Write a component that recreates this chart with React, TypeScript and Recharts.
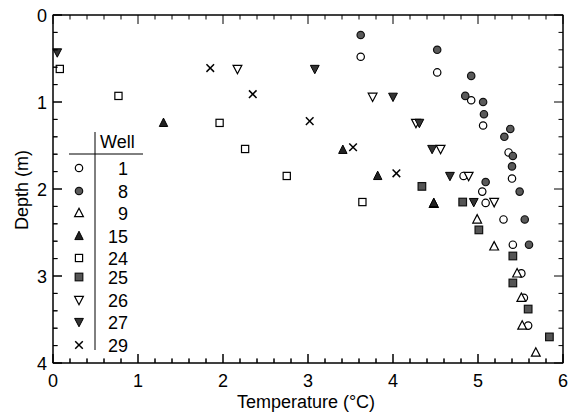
import React from "react";
import { ScatterChart, Scatter, XAxis, YAxis } from "recharts";

const FONT = "'Liberation Sans', Arial, Helvetica, sans-serif";

// Well identifiers and marker kinds
const wellNames = ["1", "8", "9", "15", "24", "25", "26", "27", "29"];
const wellKinds = [
  "openCircle",
  "filledCircle",
  "openTri",
  "filledTri",
  "openSquare",
  "filledSquare",
  "openDown",
  "filledDown",
  "cross",
];

// [temperature °C, depth m]
const well1 = [
  [3.62, 0.48], [4.52, 0.66], [4.92, 0.98], [5.06, 1.27], [5.36, 1.58],
  [5.40, 1.88], [4.83, 1.85], [5.05, 2.03], [5.09, 2.16], [5.30, 2.35],
  [5.41, 2.64], [5.51, 2.97], [5.54, 3.25], [5.59, 3.57],
];
const well8 = [
  [3.62, 0.23], [4.52, 0.40], [4.92, 0.70], [4.85, 0.93], [5.06, 1.0],
  [5.07, 1.14], [5.38, 1.31], [5.31, 1.40], [5.41, 1.62], [5.40, 1.74],
  [5.09, 1.92], [5.49, 2.03], [5.55, 2.35], [5.60, 2.64],
];
const well9 = [
  [4.48, 2.17], [4.99, 2.35], [5.19, 2.66], [5.46, 2.97], [5.51, 3.25],
  [5.52, 3.57], [5.68, 3.88],
];
const well15 = [[1.30, 1.24], [3.41, 1.55], [3.82, 1.85], [4.48, 2.16]];
const well24 = [
  [0.08, 0.62], [0.77, 0.93], [1.96, 1.24], [2.26, 1.54], [2.75, 1.85],
  [3.64, 2.15],
];
const well25 = [
  [4.34, 1.97], [4.82, 2.15], [5.01, 2.47], [5.41, 2.77], [5.41, 3.08],
  [5.59, 3.38], [5.84, 3.70],
];
const well26 = [
  [2.17, 0.62], [3.76, 0.94], [4.27, 1.24], [4.56, 1.54], [4.89, 1.85],
  [5.19, 2.15],
];
const well27 = [
  [0.05, 0.43], [3.08, 0.62], [4.00, 0.94], [4.31, 1.24], [4.46, 1.54],
  [4.67, 1.85], [4.95, 2.15],
];
const well29 = [
  [1.85, 0.61], [2.35, 0.91], [3.02, 1.22], [3.53, 1.52], [4.04, 1.82],
];

const wellData = [well1, well8, well9, well15, well24, well25, well26, well27, well29];

// Axis ticks
const xMajor = [0, 1, 2, 3, 4, 5, 6];
const yMajor = [0, 1, 2, 3, 4];
const xTicks = [
  0, 0.2, 0.4, 0.6, 0.8, 1, 1.2, 1.4, 1.6, 1.8, 2, 2.2, 2.4, 2.6, 2.8, 3,
  3.2, 3.4, 3.6, 3.8, 4, 4.2, 4.4, 4.6, 4.8, 5, 5.2, 5.4, 5.6, 5.8, 6,
];
const yTicks = [
  0, 0.2, 0.4, 0.6, 0.8, 1, 1.2, 1.4, 1.6, 1.8, 2, 2.2, 2.4, 2.6, 2.8, 3,
  3.2, 3.4, 3.6, 3.8, 4,
];

const isMajor = (v: number, majors: number[]) =>
  majors.some((m) => Math.abs(m - v) < 1e-6);

const MAJOR_LEN = 9;
const MINOR_LEN = 4.5;

// Chart geometry (plot rectangle follows from margins + axis sizes below)
const W = 569;
const H = 414;
const MARGIN = { top: 14, right: 5, bottom: 0, left: 0 };
const X_AXIS_H = 51;
const Y_AXIS_W = 53;
const PLOT = {
  left: MARGIN.left + Y_AXIS_W,
  right: W - MARGIN.right - 1,
  top: MARGIN.top + 1,
  bottom: H - MARGIN.bottom - X_AXIS_H,
};
const sx = (v: number) => PLOT.left + (v / 6) * (PLOT.right - PLOT.left);
const sy = (v: number) => PLOT.top + (v / 4) * (PLOT.bottom - PLOT.top);

function Marker({ kind, cx, cy }: { kind: string; cx: number; cy: number }) {
  const sw = 1.2;
  const r = 3.7;
  switch (kind) {
    case "openCircle":
      return <circle cx={cx} cy={cy} r={r} fill="#fff" stroke="#000" strokeWidth={sw} />;
    case "filledCircle":
      return <circle cx={cx} cy={cy} r={r} fill="#5a5a5a" stroke="#111" strokeWidth={sw} />;
    case "openSquare":
      return <rect x={cx - 3.6} y={cy - 3.6} width={7.2} height={7.2} fill="#fff" stroke="#000" strokeWidth={sw} />;
    case "filledSquare":
      return <rect x={cx - 3.8} y={cy - 3.8} width={7.6} height={7.6} fill="#555" stroke="#111" strokeWidth={sw} />;
    case "openTri":
      return (
        <polygon
          points={`${cx},${cy - 4.8} ${cx + 4.4},${cy + 3.6} ${cx - 4.4},${cy + 3.6}`}
          fill="#fff"
          stroke="#000"
          strokeWidth={sw}
        />
      );
    case "filledTri":
      return (
        <polygon
          points={`${cx},${cy - 4.8} ${cx + 4.2},${cy + 3.6} ${cx - 4.2},${cy + 3.6}`}
          fill="#222"
          stroke="#000"
          strokeWidth={1}
        />
      );
    case "openDown":
      return (
        <polygon
          points={`${cx - 4.4},${cy - 3.6} ${cx + 4.4},${cy - 3.6} ${cx},${cy + 4.8}`}
          fill="#fff"
          stroke="#000"
          strokeWidth={sw}
        />
      );
    case "filledDown":
      return (
        <polygon
          points={`${cx - 4.4},${cy - 3.6} ${cx + 4.4},${cy - 3.6} ${cx},${cy + 4.8}`}
          fill="#333"
          stroke="#000"
          strokeWidth={1}
        />
      );
    case "cross":
    default:
      return (
        <g stroke="#000" strokeWidth={1.5}>
          <line x1={cx - 3.8} y1={cy - 3.8} x2={cx + 3.8} y2={cy + 3.8} />
          <line x1={cx - 3.8} y1={cy + 3.8} x2={cx + 3.8} y2={cy - 3.8} />
        </g>
      );
  }
}

function BottomTick(p: any) {
  const v = p.payload.value;
  const major = isMajor(v, xMajor);
  const len = major ? MAJOR_LEN : MINOR_LEN;
  return (
    <g>
      <path d={`M${p.x},${p.y}V${p.y - len}`} stroke="#000" strokeWidth={1} fill="none" />
      {major && (
        <text x={p.x} y={p.y + 24} textAnchor="middle" fontFamily={FONT} fontSize={18} fill="#000">
          {v}
        </text>
      )}
    </g>
  );
}

function TopTick(p: any) {
  const v = p.payload.value;
  const len = isMajor(v, xMajor) ? MAJOR_LEN : MINOR_LEN;
  return <path d={`M${p.x},${p.y}V${p.y + len}`} stroke="#000" strokeWidth={1} fill="none" />;
}

function LeftTick(p: any) {
  const v = p.payload.value;
  const major = isMajor(v, yMajor);
  const len = major ? MAJOR_LEN : MINOR_LEN;
  return (
    <g>
      <path d={`M${p.x},${p.y}H${p.x + len}`} stroke="#000" strokeWidth={1} fill="none" />
      {major && (
        <text x={p.x - 6} y={p.y + 6.5} textAnchor="end" fontFamily={FONT} fontSize={18} fill="#000">
          {v}
        </text>
      )}
    </g>
  );
}

function RightTick(p: any) {
  const v = p.payload.value;
  const len = isMajor(v, yMajor) ? MAJOR_LEN : MINOR_LEN;
  return <path d={`M${p.x},${p.y}H${p.x - len}`} stroke="#000" strokeWidth={1} fill="none" />;
}

// Legend layout (table inside the plot)
const legendRowsY = [168, 191, 213, 236, 258, 277, 300, 322, 345];

const axisLineStyle = { stroke: "#000", strokeWidth: 1 };

export default function App() {
  const series = wellData.map((arr) => arr.map(([t, d]) => ({ t, d })));
  return (
    <div style={{ position: "absolute", left: 0, top: 0, width: W, height: H, background: "#fff" }}>
      <ScatterChart width={W} height={H} margin={MARGIN}>
        <XAxis
          xAxisId="b"
          type="number"
          dataKey="t"
          domain={[0, 6]}
          ticks={xTicks}
          interval={0}
          tickSize={0}
          tickMargin={0}
          axisLine={axisLineStyle}
          tick={(p: any) => <BottomTick {...p} />}
          height={X_AXIS_H}
        />
        <XAxis
          xAxisId="t"
          orientation="top"
          type="number"
          dataKey="t"
          domain={[0, 6]}
          ticks={xTicks}
          interval={0}
          tickSize={0}
          tickMargin={0}
          axisLine={axisLineStyle}
          tick={(p: any) => <TopTick {...p} />}
          height={1}
        />
        <YAxis
          yAxisId="l"
          type="number"
          dataKey="d"
          domain={[0, 4]}
          reversed
          ticks={yTicks}
          interval={0}
          tickSize={0}
          tickMargin={0}
          axisLine={axisLineStyle}
          tick={(p: any) => <LeftTick {...p} />}
          width={Y_AXIS_W}
        />
        <YAxis
          yAxisId="r"
          orientation="right"
          type="number"
          dataKey="d"
          domain={[0, 4]}
          reversed
          ticks={yTicks}
          interval={0}
          tickSize={0}
          tickMargin={0}
          axisLine={axisLineStyle}
          tick={(p: any) => <RightTick {...p} />}
          width={1}
        />
        {series.map((data, i) => (
          <Scatter
            key={wellNames[i]}
            name={wellNames[i]}
            data={data}
            xAxisId="b"
            yAxisId="l"
            isAnimationActive={false}
            shape={(p: any) => <Marker kind={wellKinds[i]} cx={p.cx} cy={p.cy} />}
          />
        ))}
      </ScatterChart>
      <svg
        width={W}
        height={H}
        style={{ position: "absolute", left: 0, top: 0, pointerEvents: "none" }}
      >
        {/* plot frame with inward ticks on all four sides */}
        <rect
          x={PLOT.left}
          y={PLOT.top}
          width={PLOT.right - PLOT.left}
          height={PLOT.bottom - PLOT.top}
          fill="none"
          stroke="#000"
          strokeWidth={1}
        />
        {xTicks.map((v) => {
          const len = isMajor(v, xMajor) ? MAJOR_LEN : MINOR_LEN;
          const x = sx(v);
          return (
            <g key={"xt" + v} stroke="#000" strokeWidth={1}>
              <line x1={x} y1={PLOT.bottom} x2={x} y2={PLOT.bottom - len} />
              <line x1={x} y1={PLOT.top} x2={x} y2={PLOT.top + len} />
            </g>
          );
        })}
        {yTicks.map((v) => {
          const len = isMajor(v, yMajor) ? MAJOR_LEN : MINOR_LEN;
          const y = sy(v);
          return (
            <g key={"yt" + v} stroke="#000" strokeWidth={1}>
              <line x1={PLOT.left} y1={y} x2={PLOT.left + len} y2={y} />
              <line x1={PLOT.right} y1={y} x2={PLOT.right - len} y2={y} />
            </g>
          );
        })}
        <text x={306} y={408} textAnchor="middle" fontFamily={FONT} fontSize={18} fill="#000">
          Temperature (°C)
        </text>
        <text
          x={0}
          y={0}
          transform="translate(28,190) rotate(-90)"
          textAnchor="middle"
          fontFamily={FONT}
          fontSize={18}
          fill="#000"
        >
          Depth (m)
        </text>
        <line x1={95} y1={132} x2={95} y2={350} stroke="#000" strokeWidth={1} />
        <line x1={69} y1={154} x2={143} y2={154} stroke="#000" strokeWidth={1} />
        <text x={100} y={148} fontFamily={FONT} fontSize={18} fill="#000">
          Well
        </text>
        {wellNames.map((w, i) => (
          <g key={w}>
            <Marker kind={wellKinds[i]} cx={79} cy={legendRowsY[i]} />
            <text x={128} y={legendRowsY[i] + 6.5} textAnchor="end" fontFamily={FONT} fontSize={18} fill="#000">
              {w}
            </text>
          </g>
        ))}
      </svg>
    </div>
  );
}
